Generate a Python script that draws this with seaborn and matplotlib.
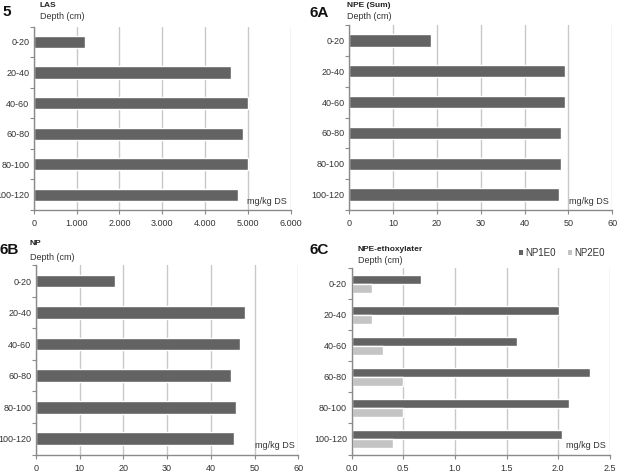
import matplotlib
matplotlib.use("Agg")
import matplotlib.pyplot as plt
import seaborn as sns
import pandas as pd
import numpy as np
from matplotlib.ticker import FixedLocator
from matplotlib.patches import Patch

depths = ["0-20", "20-40", "40-60", "60-80", "80-100", "100-120"]
las = [1200, 4600, 5000, 4900, 5000, 4770]
npe_sum = [18.7, 49.2, 49.2, 48.2, 48.2, 47.8]
np_vals = [18.0, 47.7, 46.7, 44.7, 45.7, 45.3]
np1e0 = [0.67, 2.01, 1.60, 2.31, 2.11, 2.04]
np2e0 = [0.20, 0.20, 0.30, 0.50, 0.50, 0.40]

las_ticks = [0, 1000, 2000, 3000, 4000, 5000, 6000]
las_ticklabels = ["0", "1.000", "2.000", "3.000", "4.000", "5.000", "6.000"]
np_ticks = [0, 10, 20, 30, 40, 50, 60]
np_ticklabels = ["0", "10", "20", "30", "40", "50", "60"]
eth_ticks = [0, 0.5, 1.0, 1.5, 2.0, 2.5]
eth_ticklabels = ["0.0", "0.5", "1.0", "1.5", "2.0", "2.5"]

sns.set_theme(style="white")
plt.rcParams["font.family"] = ["Liberation Sans", "DejaVu Sans"]

DARK = "#636363"
LIGHT = "#c4c4c4"
GRID = "#c8c8c8"
AXC = "#8a8a8a"
TXT = "#333333"

W, H = 624, 472
fig = plt.figure(figsize=(W / 100, H / 100), dpi=100)


def make_ax(l, r, t, b):
    return fig.add_axes([l / W, (H - b) / H, (r - l) / W, (b - t) / H])


def style(ax, ticks, ticklabels, xmax, hpx):
    ax.set_xlim(0, xmax)
    ax.set_ylim(5.5, -0.5)
    ax.set_xticks(ticks)
    ax.set_xticklabels(ticklabels, fontsize=6.5, color=TXT)
    ax.set_yticks(range(len(depths)))
    ax.set_yticklabels(depths, fontsize=6.5, color=TXT)
    ax.yaxis.set_minor_locator(FixedLocator(np.arange(-0.5, 6.0, 1.0)))
    ax.tick_params(axis="y", which="major", length=0, pad=3.5)
    ax.tick_params(axis="y", which="minor", length=3, width=0.8, color=AXC, direction="out", left=True)
    ax.tick_params(axis="x", which="major", length=3, width=0.8, color=AXC, direction="out", bottom=True, pad=3.5)
    ax.set_xlabel("")
    ax.set_ylabel("")
    for s in ["top", "right"]:
        ax.spines[s].set_visible(False)
    for s in ["left", "bottom"]:
        ax.spines[s].set_color(AXC)
        ax.spines[s].set_linewidth(1.0)
    ax.xaxis.grid(True, color=GRID, linewidth=1.0)
    ax.yaxis.grid(False)
    ax.set_axisbelow(True)
    ax.text(0.985, 8.5 / hpx, "mg/kg DS", transform=ax.transAxes, ha="right", va="center",
            fontsize=6.5, color=TXT)


def single(ax, vals, ticks, ticklabels, xmax, hpx):
    df = pd.DataFrame({"depth": depths, "value": vals})
    sns.barplot(data=df, x="value", y="depth", orient="h", color=DARK, width=0.4,
                saturation=1, ax=ax, order=depths)
    style(ax, ticks, ticklabels, xmax, hpx)


# Panel 5
ax1 = make_ax(34, 290.5, 26.7, 210)
single(ax1, las, las_ticks, las_ticklabels, 6000, 183.3)
fig.text(2 / W, 1 - 12 / H, "5", fontsize=11, fontweight="bold", va="center", ha="left", color="#111111")
fig.text(40 / W, 1 - 5.5 / H, "LAS", fontsize=6, fontweight="bold", va="center", ha="left", color="#222222")
fig.text(40 / W, 1 - 16.5 / H, "Depth (cm)", fontsize=6.5, va="center", ha="left", color=TXT)

# Panel 6A
ax2 = make_ax(349.3, 612.3, 25, 210)
single(ax2, npe_sum, np_ticks, np_ticklabels, 60, 185)
fig.text(310 / W, 1 - 13 / H, "6A", fontsize=11, fontweight="bold", va="center", ha="left", color="#111111")
fig.text(347 / W, 1 - 5.5 / H, "NPE (Sum)", fontsize=6, fontweight="bold", va="center", ha="left", color="#222222")
fig.text(347 / W, 1 - 16.5 / H, "Depth (cm)", fontsize=6.5, va="center", ha="left", color=TXT)

# Panel 6B
ax3 = make_ax(36, 298.3, 265.3, 454.5)
single(ax3, np_vals, np_ticks, np_ticklabels, 60, 189)
fig.text(-1 / W, 1 - 250 / H, "6B", fontsize=11, fontweight="bold", va="center", ha="left", color="#111111")
fig.text(30 / W, 1 - 244 / H, "NP", fontsize=6, fontweight="bold", va="center", ha="left", color="#222222")
fig.text(30 / W, 1 - 257 / H, "Depth (cm)", fontsize=6.5, va="center", ha="left", color=TXT)

# Panel 6C
ax4 = make_ax(351.7, 609.7, 268.3, 454.5)
df = pd.DataFrame({
    "depth": depths * 2,
    "value": np1e0 + np2e0,
    "series": ["NP1E0"] * len(depths) + ["NP2E0"] * len(depths),
})
sns.barplot(data=df, x="value", y="depth", hue="series", orient="h", order=depths,
            hue_order=["NP1E0", "NP2E0"], palette=[DARK, LIGHT], width=0.6,
            saturation=1, ax=ax4, legend=False)
style(ax4, eth_ticks, eth_ticklabels, 2.5, 186)
fig.text(310 / W, 1 - 250 / H, "6C", fontsize=11, fontweight="bold", va="center", ha="left", color="#111111")
fig.text(357.5 / W, 1 - 249 / H, "NPE-ethoxylater", fontsize=6, fontweight="bold", va="center", ha="left", color="#222222")
fig.text(357.5 / W, 1 - 260.5 / H, "Depth (cm)", fontsize=6.5, va="center", ha="left", color=TXT)

handles = [Patch(facecolor=DARK, edgecolor="none", label="NP1E0"),
           Patch(facecolor=LIGHT, edgecolor="none", label="NP2E0")]
fig.legend(handles=handles, loc="center left", bbox_to_anchor=(519 / W, 1 - 253 / H), ncol=2,
           frameon=False, fontsize=7, handlelength=0.45, handleheight=0.45, handletextpad=0.15,
           columnspacing=1.3, borderpad=0, borderaxespad=0, labelcolor=TXT)

fig.savefig("out.png", dpi=100)
